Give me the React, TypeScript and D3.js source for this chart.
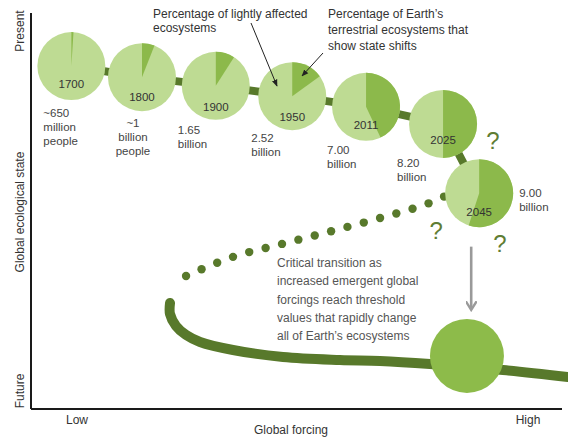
import React from "react";
import * as d3 from "d3";

// ---------- data ----------
const years = ["1700", "1800", "1900", "1950", "2011", "2025", "2045"];
const forcing = [7.6, 20.9, 34.8, 49.2, 63.1, 77.6, 84.4];
const ecoState = [86.6, 83.8, 81.6, 79.0, 76.3, 72.0, 54.5];
const shiftPct = [1, 6, 9, 15, 43, 50, 55];
const population = [
  ["~650", "million", "people"],
  ["~1", "billion", "people"],
  ["1.65", "billion"],
  ["2.52", "billion"],
  ["7.00", "billion"],
  ["8.20", "billion"],
  ["9.00", "billion"],
];
// dotted (unstable) branch of the fold
const dottedX = [29.2, 38.0, 47.3, 56.5, 65.7, 75.0, 80.0];
const dottedY = [33.6, 38.4, 41.7, 44.9, 48.2, 52.0, 55.1];
// solid (collapsed) branch
const solidX = [26.18, 26.18, 27.31, 29.19, 31.83, 38.04, 47.46, 58.19, 65.73, 75.14, 88.89, 101.13];
const solidY = [26.77, 23.99, 20.96, 18.69, 16.92, 14.9, 13.13, 12.37, 12.12, 11.36, 9.85, 8.08];
const futureState = { x: 82.1, y: 13.4 };
const questionMarks = [
  { x: 87.0, y: 67.9 },
  { x: 76.3, y: 45.2 },
  { x: 88.3, y: 41.9 },
];
const criticalText = [
  "Critical transition as",
  "increased emergent global",
  "forcings reach threshold",
  "values that rapidly change",
  "all of Earth\u2019s ecosystems",
];

// ---------- layout ----------
const W = 568;
const H = 439;
const x = d3.scaleLinear().domain([0, 100]).range([31, 562]);
const y = d3.scaleLinear().domain([0, 100]).range([409, 13]);
const R = 34;
const popOffset: [number, number, string][] = [
  [-28, 51, "start"],
  [-9, 50, "middle"],
  [-38, 48, "start"],
  [-41, 46, "start"],
  [-39, 47, "start"],
  [-46, 43, "start"],
  [40, 4, "start"],
];
const yearDy = [22, 24, 25, 25, 22, 20, 23];

const LIGHT = "#bedb93";
const DARK = "#8cb94b";
const OLIVE = "#58792b";
const FONT = "'Liberation Sans', Arial, Helvetica, sans-serif";

export default function App() {
  const arc = d3.arc<any>().innerRadius(0).outerRadius(R);
  const pts = years.map((yr, i) => ({
    yr,
    cx: x(forcing[i]),
    cy: y(ecoState[i]),
    p: shiftPct[i] / 100,
    pop: population[i],
  }));

  const connector = d3
    .line<any>()
    .x((d) => d.cx)
    .y((d) => d.cy)(pts);

  const solidPath = d3
    .line<number>()
    .x((d, i) => x(solidX[i]))
    .y((d, i) => y(solidY[i]))
    .curve(d3.curveCatmullRom.alpha(0.5))(solidX);

  const dottedPath = d3
    .line<number>()
    .x((d, i) => x(dottedX[i]))
    .y((d, i) => y(dottedY[i]))
    .curve(d3.curveCatmullRom.alpha(0.5))(dottedX) as string;

  // sample dots along the dotted path
  const dots: { x: number; y: number }[] = [];
  if (typeof document !== "undefined") {
    const p = document.createElementNS("http://www.w3.org/2000/svg", "path");
    p.setAttribute("d", dottedPath);
    const len = p.getTotalLength();
    const step = 16.9;
    for (let s = 0; s <= len; s += step) {
      const pt = p.getPointAtLength(s);
      dots.push({ x: pt.x, y: pt.y });
    }
  }

  return (
    <svg
      width={W}
      height={H}
      viewBox={`0 0 ${W} ${H}`}
      style={{ position: "absolute", left: 0, top: 0, background: "#fff" }}
      fontFamily={FONT}
    >
      <defs>
        <marker id="ah" viewBox="0 0 10 10" refX="9" refY="5" markerWidth="7" markerHeight="7" orient="auto-start-reverse">
          <path d="M0,1 L10,5 L0,9 z" fill="#222" />
        </marker>
        <marker id="gh" viewBox="0 0 10 10" refX="7" refY="5" markerWidth="4.2" markerHeight="4.2" orient="auto">
          <path d="M0,0 L8,5 L0,10" fill="none" stroke="#9a9a9a" strokeWidth="2.2" />
        </marker>
      </defs>

      {/* axes */}
      <line x1={x(0)} y1={y(100)} x2={x(0)} y2={y(0)} stroke="#1a1a1a" strokeWidth={2} />
      <line x1={x(0)} y1={y(0)} x2={x(100)} y2={y(0)} stroke="#1a1a1a" strokeWidth={2} />
      <g fontSize={12} fill="#333">
        <text transform={`translate(24,${31}) rotate(-90)`} textAnchor="middle">Present</text>
        <text transform={`translate(24,${212}) rotate(-90)`} textAnchor="middle">Global ecological state</text>
        <text transform={`translate(24,${391}) rotate(-90)`} textAnchor="middle">Future</text>
        <text x={77} y={424} textAnchor="middle">Low</text>
        <text x={528} y={424} textAnchor="middle">High</text>
        <text x={291} y={434} textAnchor="middle">Global forcing</text>
      </g>

      {/* solid collapsed branch */}
      <path d={solidPath as string} fill="none" stroke={OLIVE} strokeWidth={10} strokeLinecap="round" />
      <circle cx={x(futureState.x)} cy={y(futureState.y)} r={37} fill="#8dbb4a" />

      {/* dotted unstable branch */}
      {dots.map((d, i) => (
        <circle key={i} cx={d.x} cy={d.y} r={4.2} fill={OLIVE} />
      ))}

      {/* connector between pies */}
      <path d={connector as string} fill="none" stroke={OLIVE} strokeWidth={8} />

      {/* pies */}
      {pts.map((d, i) => (
        <g key={d.yr} transform={`translate(${d.cx},${d.cy})`}>
          <circle r={R} fill={LIGHT} />
          <path d={arc({ startAngle: 0, endAngle: 2 * Math.PI * d.p }) as string} fill={DARK} />
          <text y={yearDy[i]} textAnchor="middle" fontSize={11.5} fill="#333">{d.yr}</text>
        </g>
      ))}

      {/* population labels */}
      <g fontSize={11.5} fill="#444">
        {pts.map((d, i) => (
          <text key={d.yr} x={d.cx + popOffset[i][0]} y={d.cy + popOffset[i][1]} textAnchor={popOffset[i][2] as any}>
            {d.pop.map((t, j) => (
              <tspan key={j} x={d.cx + popOffset[i][0]} dy={j === 0 ? 0 : 14}>{t}</tspan>
            ))}
          </text>
        ))}
      </g>

      {/* question marks */}
      <g fontSize={24} fill="#5f7d34" textAnchor="middle">
        {questionMarks.map((q, i) => (
          <text key={i} x={x(q.x)} y={y(q.y) + 9}>?</text>
        ))}
      </g>

      {/* gray arrow to collapsed state */}
      <line x1={x(82.9)} y1={y(41)} x2={x(82.9)} y2={y(25.3)} stroke="#9a9a9a" strokeWidth={2.6} markerEnd="url(#gh)" />

      {/* annotations */}
      <g fontSize={12} fill="#333">
        <text x={153} y={18}>Percentage of lightly affected</text>
        <text x={153} y={32}>ecosystems</text>
        <text x={328} y={18}>Percentage of Earth’s</text>
        <text x={328} y={34}>terrestrial ecosystems that</text>
        <text x={328} y={50}>show state shifts</text>
      </g>
      <line x1={251} y1={23} x2={277} y2={86} stroke="#222" strokeWidth={1} markerEnd="url(#ah)" />
      <line x1={323} y1={53} x2={302} y2={76} stroke="#222" strokeWidth={1} markerEnd="url(#ah)" />

      <g fontSize={12} fill="#555">
        {criticalText.map((t, i) => (
          <text key={i} x={277} y={267 + i * 18.3}>{t}</text>
        ))}
      </g>
    </svg>
  );
}
